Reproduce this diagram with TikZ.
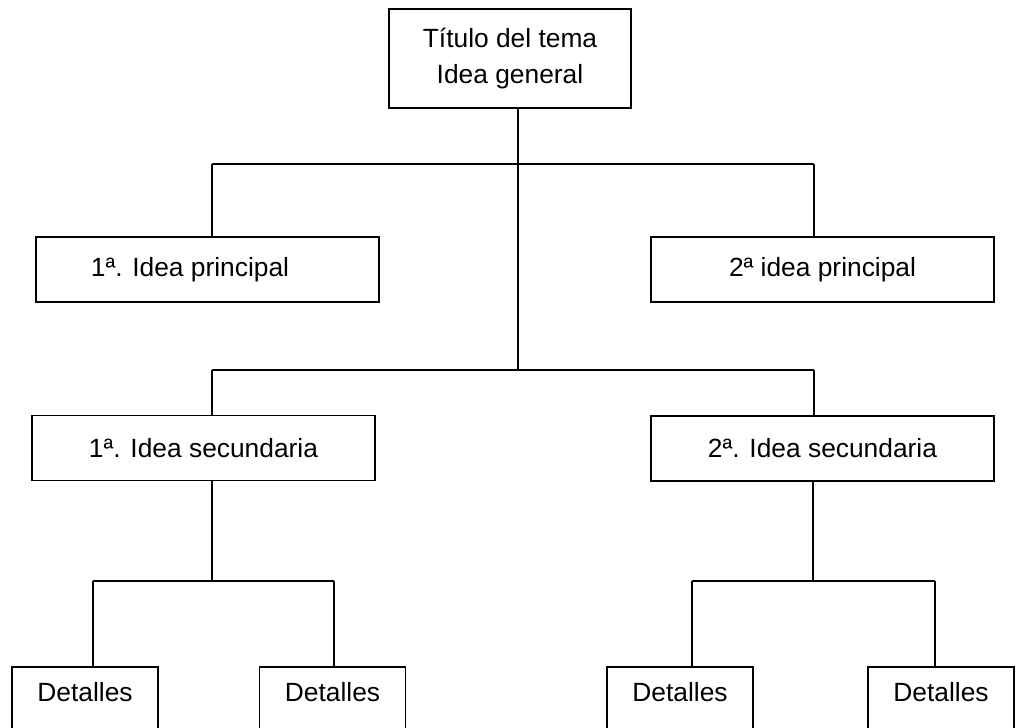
\documentclass[tikz,border=0pt]{standalone}
\usepackage{fontspec}
\setmainfont{Liberation Sans}
\usetikzlibrary{calc}
\usetikzlibrary{positioning}

\begin{document}
\begin{tikzpicture}[
        x=0.02cm, y=-0.02cm,
        line width=0.9pt,
        every node/.style={draw, font=\fontsize{15}{21}\selectfont},
        idea/.style={minimum width=6.86cm, minimum height=1.3cm},
        detalle/.style={minimum width=2.92cm, inner sep=0pt, text height=0.7cm, text depth=1.2cm, anchor=north}]
        
        \path[use as bounding box] (0,0) rectangle (1023,727);
        \clip (0,0) rectangle (1023,727);
        
        \node[minimum width=4.84cm, minimum height=1.98cm, align=center] (tema) at (510,58.5) {Título del tema\\Idea general};
        \node[idea] (p1) at (207.5,269.5) {1ª. Idea principal\hspace*{0.7cm}};
        \node[idea] (p2) at (822.5,269.5) {2ª idea principal};
        \node[idea] (s1) at (203.5,448) {1ª. Idea secundaria};
        \node[idea] (s2) at (822.5,448.5) {2ª. Idea secundaria};
        \node[detalle] (d1) at (85,666) {Detalles};
        \node[detalle] (d2) at (332.5,666) {Detalles};
        \node[detalle] (d3) at (680,666) {Detalles};
        \node[detalle] (d4) at (941,666) {Detalles};
        
        \coordinate (b1l) at (212,164);
        \coordinate (b1r) at (814,164);
        \coordinate (b2l) at (212,370);
        \coordinate (b2r) at (814,370);
        \coordinate (c1) at (518,370);
        \coordinate (k1) at (212,581);
        \coordinate (e1l) at (93,581);
        \coordinate (e1r) at (334,581);
        \coordinate (k2) at (813,581);
        \coordinate (e2l) at (692,581);
        \coordinate (e2r) at (935,581);
        
        \draw[-] (tema.south -| c1) -- (c1);
        \draw[-] (b1l) -- (b1r);
        \draw[-] (b1l) -- (b1l |- p1.north);
        \draw[-] (b1r) -- (b1r |- p2.north);
        \draw[-] (b2l) -- (b2r);
        \draw[-] (b2l) -- (b2l |- s1.north);
        \draw[-] (b2r) -- (b2r |- s2.north);
        \draw[-] (s1.south -| k1) -- (k1);
        \draw[-] (e1l) -- (e1r);
        \draw[-] (e1l) -- (e1l |- d1.north);
        \draw[-] (e1r) -- (e1r |- d2.north);
        \draw[-] (s2.south -| k2) -- (k2);
        \draw[-] (e2l) -- (e2r);
        \draw[-] (e2l) -- (e2l |- d3.north);
        \draw[-] (e2r) -- (e2r |- d4.north);
        
    \end{tikzpicture}
\end{document}
